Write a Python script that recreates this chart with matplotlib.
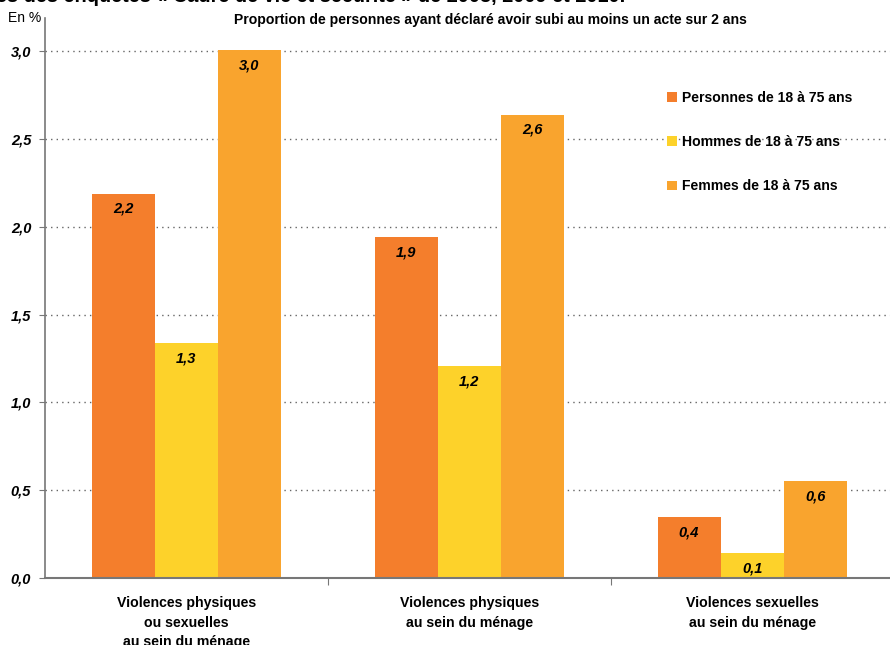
import matplotlib
matplotlib.use("Agg")
import matplotlib.pyplot as plt
import numpy as np

categories = ["Violences physiques\nou sexuelles\nau sein du ménage",
              "Violences physiques\nau sein du ménage",
              "Violences sexuelles\nau sein du ménage"]
series_names = ["Personnes de 18 à 75 ans", "Hommes de 18 à 75 ans", "Femmes de 18 à 75 ans"]
personnes = [2.19, 1.94, 0.35]
hommes = [1.34, 1.21, 0.14]
femmes = [3.01, 2.64, 0.55]
label_personnes = ["2,2", "1,9", "0,4"]
label_hommes = ["1,3", "1,2", "0,1"]
label_femmes = ["3,0", "2,6", "0,6"]
yticks = [0.0, 0.5, 1.0, 1.5, 2.0, 2.5, 3.0]
ytick_labels = ["0,0", "0,5", "1,0", "1,5", "2,0", "2,5", "3,0"]

colors = ["#F47E2C", "#FDD22A", "#F9A42E"]

plt.rcParams['font.family'] = ['Liberation Sans', 'DejaVu Sans']

fig = plt.figure(figsize=(8.9, 6.45), dpi=100)
ax = fig.add_axes([45/890, 1 - 578/645, 1 - 45/890 + 0.004, (578 - 18)/645])

x = np.arange(len(categories))
w = 0.223
series = [personnes, hommes, femmes]
labels = [label_personnes, label_hommes, label_femmes]
for i, (vals, labs) in enumerate(zip(series, labels)):
    xs = x + (i - 1) * w
    ax.bar(xs, vals, width=w, color=colors[i], label=series_names[i], zorder=2)
    for xi, v, lab in zip(xs, vals, labs):
        ax.text(xi, v - 0.088, lab, ha="center", va="center", fontsize=10.5,
                fontweight="bold", fontstyle="italic", zorder=3)

ax.set_xlim(-0.5, 2.5)
ax.set_ylim(0, 3.19)
ax.set_yticks(yticks)
ax.set_yticklabels(ytick_labels, fontweight="bold", fontstyle="italic", fontsize=10.5)
for y in yticks[1:]:
    ax.axhline(y, color="#666666", linestyle=(0, (1, 3)), linewidth=1.0, zorder=1)

ax.set_xticks([0.5, 1.5])
ax.set_xticklabels([])
ax.tick_params(axis="x", direction="out", length=5, color="#777777")
ax.tick_params(axis="y", direction="out", length=4, color="#777777", pad=6)
for xi, cat in zip(x, categories):
    ax.text(xi, -0.105, cat, ha="center", va="top", fontsize=10.2, fontweight="bold",
            linespacing=1.5, transform=ax.transData, clip_on=False)

for s in ["top", "right"]:
    ax.spines[s].set_visible(False)
ax.spines["left"].set_color("#777777")
ax.spines["bottom"].set_color("#777777")
ax.spines["left"].set_linewidth(1.2)
ax.spines["bottom"].set_linewidth(1.5)

ax.legend(loc="upper left", bbox_to_anchor=(0.718, 0.892), frameon=False,
          handlelength=0.7, handleheight=0.7, handletextpad=0.35,
          labelspacing=2.15, prop={'weight': 'bold', 'size': 10.1})

fig.text(8/890, 1 - 18/645, "En %", ha="left", va="center", fontsize=10)
fig.text(490/890, 1 - 20/645, "Proportion de personnes ayant déclaré avoir subi au moins un acte sur 2 ans",
         ha="center", va="center", fontsize=10.1, fontweight="bold")
fig.text(-4/890, 1 - 2/645, "es des enquêtes « Cadre de vie et sécurité » de 2008, 2009 et 2010.",
         ha="left", va="baseline", fontsize=14.3, fontweight="bold")

fig.savefig("out.png", dpi=100)
